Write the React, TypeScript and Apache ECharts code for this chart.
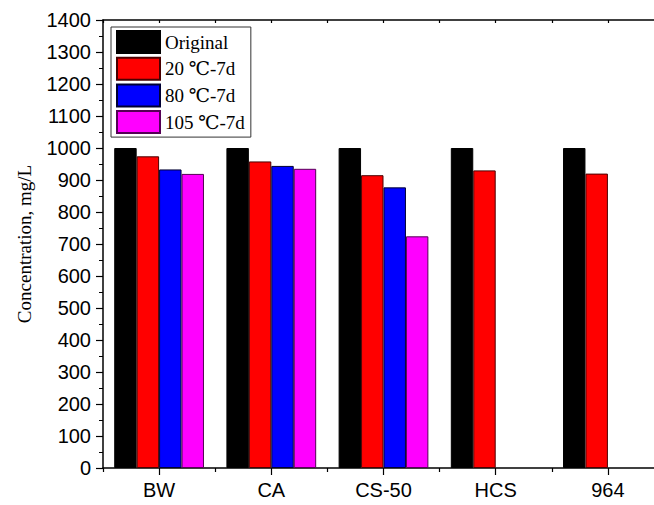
import React, { useEffect, useRef } from "react";
import * as echarts from "echarts";

const categories = ["BW", "CA", "CS-50", "HCS", "964"];
const seriesNames = ["Original", "20 ℃-7d", "80 ℃-7d", "105 ℃-7d"];
const original = [1000, 1000, 1000, 1000, 1000];
const c20 = [974, 958, 915, 930, 920];
const c80 = [933, 944, 877, null, null];
const c105 = [919, 935, 724, null, null];
const yTicks = { min: 0, max: 1400, interval: 100 };

const colors = ["#000000", "#ff0000", "#0000ff", "#ff00ff"];
const borders = ["#000000", "#4a0000", "#000033", "#550055"];

export default function App() {
  const ref = useRef<HTMLDivElement>(null);
  useEffect(() => {
    if (!ref.current) return;
    const chart = echarts.init(ref.current, null, { renderer: "svg" });
    const values = [original, c20, c80, c105];
    const serif = "'Times New Roman', 'Liberation Serif', 'DejaVu Serif', serif";
    const sans = "Arial, 'Liberation Sans', Helvetica, sans-serif";
    const hiddenCat = (position: string, align: boolean, inside: boolean, len: number, showLine: boolean) => ({
      type: "category",
      data: categories,
      position,
      gridIndex: 0,
      axisLine: { show: showLine, onZero: false, lineStyle: { color: "#000", width: 1.5 } },
      axisTick: { show: true, alignWithLabel: align, inside, length: len, lineStyle: { color: "#000", width: 1.2 } },
      axisLabel: { show: false },
      splitLine: { show: false },
    });
    chart.setOption({
      animation: false,
      backgroundColor: "#fff",
      grid: { left: 103, top: 20, bottom: 37, right: 0, containLabel: false },
      legend: {
        orient: "vertical",
        left: 111,
        top: 27,
        padding: [3, 6, 3, 5],
        itemWidth: 43,
        itemHeight: 22,
        itemGap: 2.7,
        icon: "rect",
        borderColor: "#333",
        borderWidth: 1,
        backgroundColor: "#fff",
        textStyle: { fontFamily: serif, fontSize: 19, lineHeight: 22, color: "#000", padding: [0, 0, 0, 0] },
        data: seriesNames,
      },
      xAxis: [
        {
          type: "category",
          data: categories,
          position: "bottom",
          axisLine: { show: true, onZero: false, lineStyle: { color: "#000", width: 1.5 } },
          axisTick: { show: true, alignWithLabel: true, length: 7, lineStyle: { color: "#000", width: 1.2 } },
          axisLabel: { fontFamily: sans, fontSize: 20, color: "#000", margin: 12 },
          splitLine: { show: false },
        },
        hiddenCat("bottom", false, false, 4, false),
        hiddenCat("top", false, true, 3, true),
        hiddenCat("top", true, true, 3, false),
      ],
      yAxis: {
        type: "value",
        min: yTicks.min,
        max: yTicks.max,
        interval: yTicks.interval,
        name: "Concentration, mg/L",
        nameLocation: "middle",
        nameGap: 69,
        nameTextStyle: { fontFamily: serif, fontSize: 19, color: "#000" },
        axisLine: { show: true, lineStyle: { color: "#000", width: 1.5 } },
        axisTick: { show: true, length: 7, lineStyle: { color: "#000", width: 1.2 } },
        minorTick: { show: true, splitNumber: 2, length: 4, lineStyle: { color: "#000", width: 1 } },
        axisLabel: { fontFamily: sans, fontSize: 20, color: "#000", margin: 12, formatter: (v: number) => String(v) },
        splitLine: { show: false },
      },
      series: seriesNames.map((name, i) => ({
        name,
        type: "bar",
        xAxisIndex: 0,
        data: values[i].map((v) => (v === null ? "-" : v)),
        barGap: "0%",
        barCategoryGap: "20%",
        itemStyle: { color: colors[i], borderColor: borders[i], borderWidth: 1 },
      })),
    });
    return () => chart.dispose();
  }, []);
  return (
    <div style={{ position: "fixed", left: 0, top: 0, width: 654, height: 505, overflow: "hidden", background: "#fff" }}>
      <div ref={ref} style={{ position: "absolute", left: 0, top: 0, width: 664, height: 505 }} />
    </div>
  );
}
